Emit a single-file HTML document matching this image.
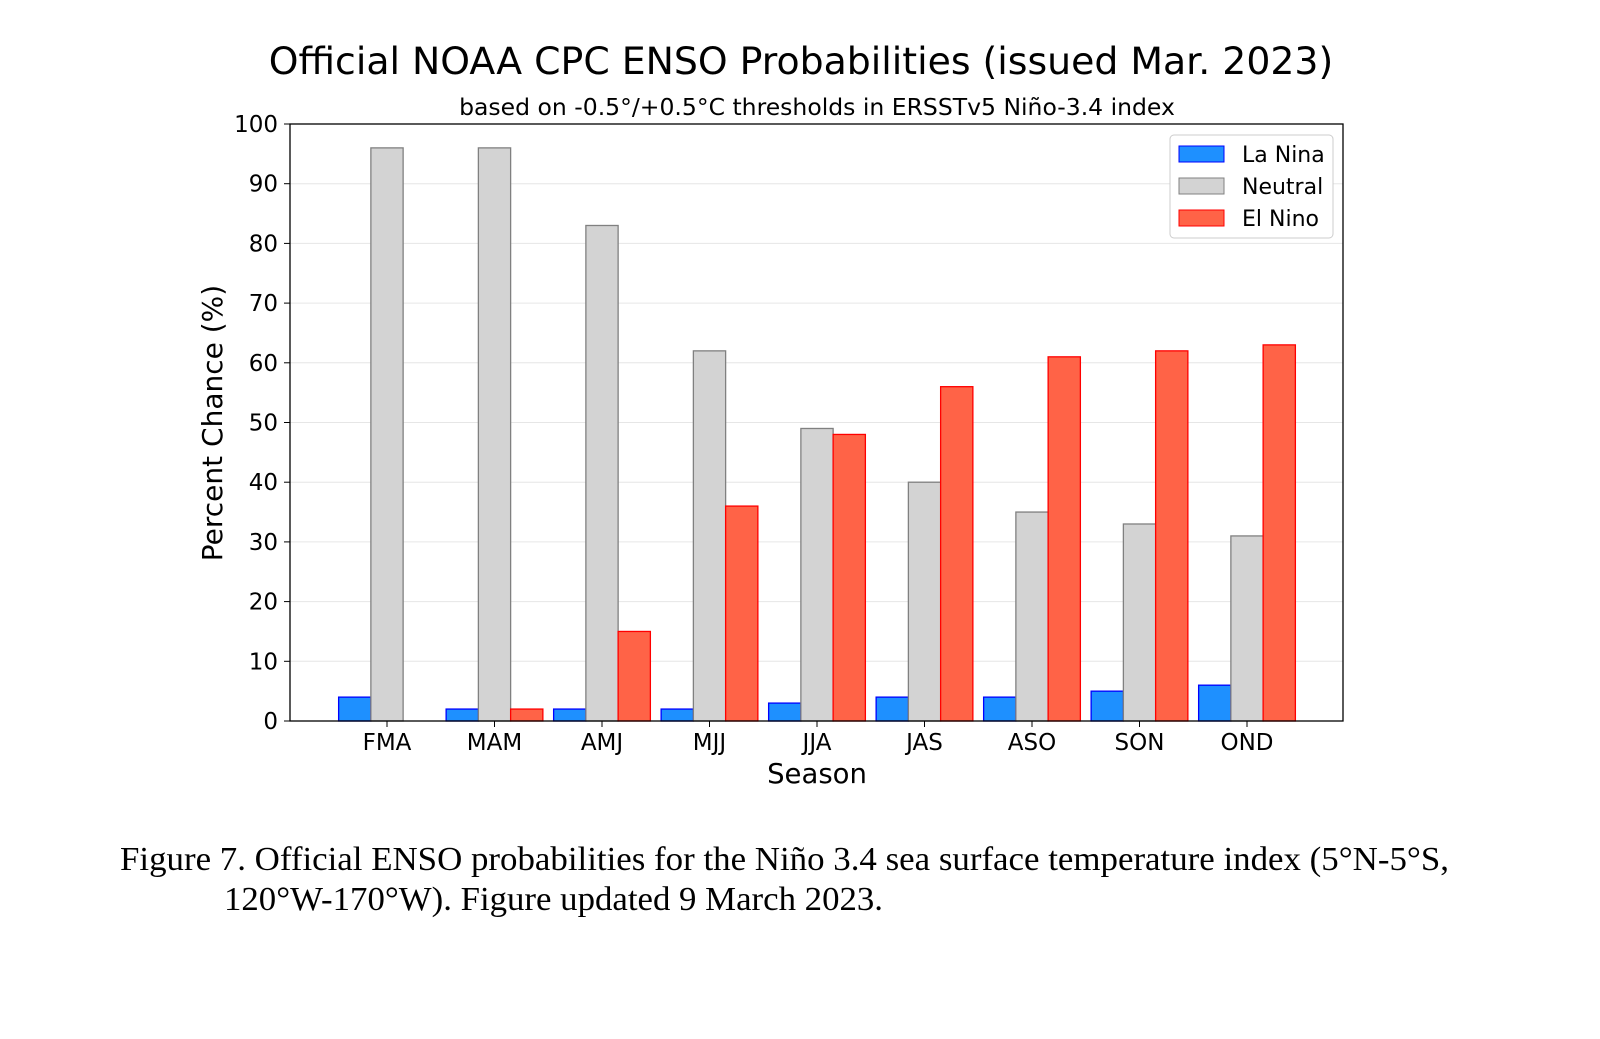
<!DOCTYPE html>
<html><head><meta charset="utf-8"><style>
body{margin:0;background:#fff;width:1600px;height:1034px;overflow:hidden}
svg{font-family:"DejaVu Sans","Liberation Sans",sans-serif}
</style></head><body>
<svg id="chart" width="1600" height="1034" xmlns="http://www.w3.org/2000/svg">
<text x="801" y="74" font-size="37.8" text-anchor="middle" fill="#000">Official NOAA CPC ENSO Probabilities (issued Mar. 2023)</text>
<text x="817" y="115" font-size="23.5" text-anchor="middle" fill="#000">based on -0.5°/+0.5°C thresholds in ERSSTv5 Niño-3.4 index</text>
<g id="grid"></g><g id="bars"></g><g id="axes"></g>
<text transform="translate(222,423) rotate(-90)" font-size="28" text-anchor="middle">Percent Chance (%)</text>
<text x="817" y="783" font-size="27.5" text-anchor="middle">Season</text>
<g>
<rect x="1170" y="135" width="163" height="103" rx="4" fill="#fff" stroke="#ccc"/>
<rect x="1179" y="146" width="45" height="16" fill="#1e90ff" stroke="#0000ff"/>
<text x="1242" y="162" font-size="22">La Nina</text>
<rect x="1179" y="178" width="45" height="16" fill="#d3d3d3" stroke="#808080"/>
<text x="1242" y="194" font-size="22">Neutral</text>
<rect x="1179" y="210" width="45" height="16" fill="#ff6347" stroke="#ff0000"/>
<text x="1242" y="226" font-size="22">El Nino</text>
</g>
<text font-family="Liberation Serif, serif" font-size="34" fill="#000"><tspan x="120" y="870" textLength="1329" lengthAdjust="spacingAndGlyphs">Figure 7. Official ENSO probabilities for the Niño 3.4 sea surface temperature index (5°N-5°S,</tspan><tspan x="224" y="910" textLength="659" lengthAdjust="spacingAndGlyphs">120°W-170°W). Figure updated 9 March 2023.</tspan></text>
</svg>
<script>
const seasons=["FMA","MAM","AMJ","MJJ","JJA","JAS","ASO","SON","OND"];
const laNina=[4,2,2,2,3,4,4,5,6];
const neutral=[96,96,83,62,49,40,35,33,31];
const elNino=[0,2,15,36,48,56,61,62,63];
const yTicks=[0,10,20,30,40,50,60,70,80,90,100];
const NS="http://www.w3.org/2000/svg";
const L=290,R=1343,T=124,B=721;
const x0=387,dx=107.5,bw=32.25;
const xs=i=>x0+i*dx;
const ys=v=>B-(v/100)*(B-T);
function mk(tag,attrs,parent){const e=document.createElementNS(NS,tag);for(const k in attrs)e.setAttribute(k,attrs[k]);parent.appendChild(e);return e;}
const grid=document.getElementById('grid'),bars=document.getElementById('bars'),axes=document.getElementById('axes');
yTicks.forEach(t=>{
  const y=ys(t);
  if(t>0&&t<100){const g=mk('line',{x1:L,x2:R,y1:y,y2:y,stroke:'#e6e6e6','stroke-width':1},grid);
  
  }
  mk('line',{x1:L-6,x2:L,y1:y,y2:y,stroke:'#000'},axes);
  const tx=mk('text',{x:L-12,y:y+8,'font-size':23,'text-anchor':'end'},axes);
  tx.textContent=t;
  
  
});
const series=[[laNina,'#1e90ff','#0000ff',-1,'la-nina'],[neutral,'#d3d3d3','#808080',0,'neutral'],[elNino,'#ff6347','#ff0000',1,'el-nino']];
seasons.forEach((s,i)=>{
  series.forEach(([arr,f,st,off,nm])=>{
    const v=arr[i];const cx=xs(i)+off*bw;
    const r=mk('rect',{x:cx-bw/2,y:ys(v),width:bw,height:B-ys(v),fill:f,stroke:st,'stroke-width':1.3},bars);
    
    
  });
  mk('line',{x1:xs(i),x2:xs(i),y1:B,y2:B+6,stroke:'#000'},axes);
  const tx=mk('text',{x:xs(i),y:B+29,'font-size':23,'text-anchor':'middle'},axes);
  tx.textContent=s;
  
  
});
const fr=mk('rect',{x:L,y:T,width:R-L,height:B-T,fill:'none',stroke:'#000','stroke-width':1.3},axes);


</script>
</body></html>
